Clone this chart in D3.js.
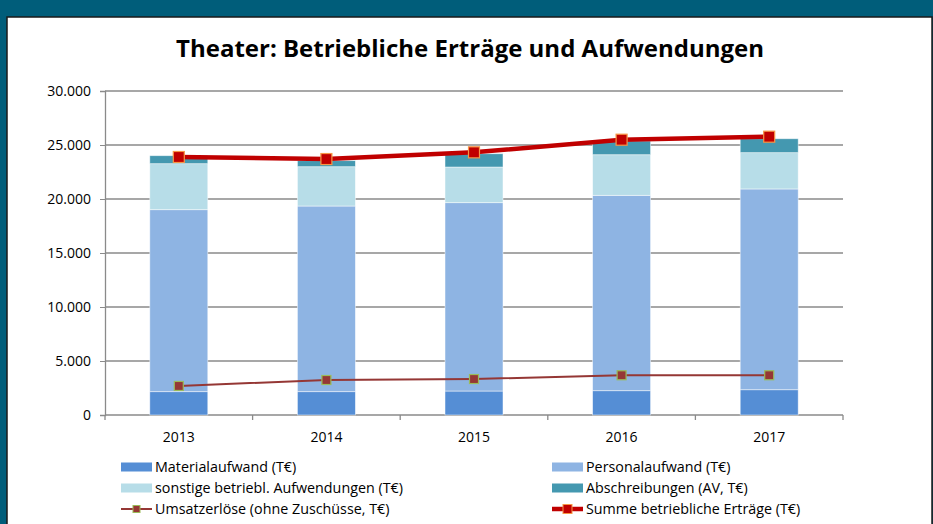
<!DOCTYPE html>
<html>
<head>
<meta charset="utf-8">
<script src="https://cdn.jsdelivr.net/npm/d3@7"></script>
<style>
  body { margin: 0; background: #005d7a; }
  #chart { position: absolute; left: 0; top: 0; }
</style>
</head>
<body>
<svg id="chart" width="933" height="524"></svg>
<script>
// data (T€)
const years = ["2013", "2014", "2015", "2016", "2017"];
const materialaufwand = [2160, 2160, 2220, 2250, 2340];
const personalaufwand = [16850, 17190, 17440, 18090, 18590];
const sonstigeAufwendungen = [4260, 3640, 3300, 3760, 3360];
const abschreibungen = [740, 560, 1230, 1270, 1290];
const umsatzerloese = [2690, 3240, 3330, 3680, 3680];
const summeErtraege = [23890, 23700, 24320, 25490, 25770];
const yTicks = [0, 5000, 10000, 15000, 20000, 25000, 30000];

const barSeries = [
    { name: "Materialaufwand (T€)", values: materialaufwand, colour: "#558ed5" },
    { name: "Personalaufwand (T€)", values: personalaufwand, colour: "#8eb4e3" },
    { name: "sonstige betriebl. Aufwendungen (T€)", values: sonstigeAufwendungen, colour: "#b7dde8" },
    { name: "Abschreibungen (AV, T€)", values: abschreibungen, colour: "#4498b0" }
];
const lineSeries = [
    { name: "Umsatzerlöse (ohne Zuschüsse, T€)", values: umsatzerloese, colour: "#953735", stroke: "#9bbb59", width: 2, size: 9 },
    { name: "Summe betriebliche Erträge (T€)", values: summeErtraege, colour: "#c00000", stroke: "#f79646", width: 4.5, size: 11 }
];

const font = "'Open Sans', sans-serif";
const de = d3.formatLocale({ decimal: ",", thousands: ".", grouping: [3], currency: ["", " €"] });
const fmt = de.format(",.0f");

const svg = d3.select("#chart");

// white panel with dark frame
svg.append("rect")
    .attr("x", 7).attr("y", 17)
    .attr("width", 925).attr("height", 520)
    .attr("fill", "#fff")
    .attr("stroke", "#1a1a1a")
    .attr("stroke-width", 1.5);

svg.append("text")
    .attr("x", 470).attr("y", 57)
    .attr("text-anchor", "middle")
    .style("font-family", font)
    .style("font-weight", "bold")
    .style("font-size", "24px")
    .attr("fill", "#000")
    .text("Theater: Betriebliche Erträge und Aufwendungen");

const plotLeft = 105, plotRight = 843, plotTop = 91, plotBottom = 415;

const y = d3.scaleLinear().domain([0, 30000]).range([plotBottom, plotTop]);

// gridlines
svg.append("g")
    .selectAll("line")
    .data(yTicks.slice(1))
    .enter()
    .append("line")
    .attr("x1", plotLeft).attr("x2", plotRight)
    .attr("y1", d => y(d)).attr("y2", d => y(d))
    .attr("stroke", "#8a8a8a")
    .attr("stroke-width", 1.3);

// y axis
const yAxis = svg.append("g")
    .attr("transform", "translate(" + plotLeft + ",0)")
    .call(d3.axisLeft(y).tickValues(yTicks).tickFormat(fmt).tickSize(5).tickPadding(9));
yAxis.select(".domain").attr("stroke", "#8a8a8a").attr("stroke-width", 1.3);
yAxis.selectAll(".tick line").attr("stroke", "#8a8a8a");
yAxis.selectAll("text").style("font-family", font).style("font-size", "14px").attr("fill", "#000");

// x axis: ticks sit between the categories
const catX = d3.scaleBand().domain(years).range([plotLeft, plotRight]);
const bandEdge = d3.scaleLinear().domain([0, years.length]).range([plotLeft, plotRight]);
const xAxis = svg.append("g")
    .attr("transform", "translate(0," + plotBottom + ")");
xAxis.append("line")
    .attr("x1", plotLeft).attr("x2", plotRight)
    .attr("stroke", "#8a8a8a").attr("stroke-width", 1.3);
xAxis.selectAll(".sep")
    .data(d3.range(years.length + 1))
    .enter()
    .append("line")
    .attr("x1", d => bandEdge(d)).attr("x2", d => bandEdge(d))
    .attr("y1", 0).attr("y2", 5)
    .attr("stroke", "#8a8a8a").attr("stroke-width", 1.3);
xAxis.selectAll(".lbl")
    .data(years)
    .enter()
    .append("text")
    .attr("x", d => catX(d) + catX.bandwidth() / 2)
    .attr("y", 27)
    .attr("text-anchor", "middle")
    .style("font-family", font).style("font-size", "14px")
    .attr("fill", "#000")
    .text(d => d);

// stacked bars
const stackRows = years.map((yr, i) => {
    const row = { year: yr };
    barSeries.forEach(s => { row[s.name] = s.values[i]; });
    return row;
});
const stacked = d3.stack().keys(barSeries.map(s => s.name))(stackRows);
const barW = 58;

svg.append("g")
    .selectAll("g")
    .data(stacked)
    .enter()
    .append("g")
    .attr("fill", (d, i) => barSeries[i].colour)
    .selectAll("rect")
    .data(d => d)
    .enter()
    .append("rect")
    .attr("x", d => catX(d.data.year) + catX.bandwidth() / 2 - barW / 2)
    .attr("width", barW)
    .attr("y", d => y(d[1]))
    .attr("height", d => y(d[0]) - y(d[1]))
    .attr("stroke", "rgba(255,255,255,0.6)")
    .attr("stroke-width", 0.8);

// lines with square markers
const line = d3.line()
    .x((d, i) => catX(years[i]) + catX.bandwidth() / 2)
    .y(d => y(d));

lineSeries.forEach(s => {
    svg.append("path")
        .datum(s.values)
        .attr("d", line)
        .attr("fill", "none")
        .attr("stroke", s.colour)
        .attr("stroke-width", s.width);
    svg.append("g")
        .selectAll("rect")
        .data(s.values)
        .enter()
        .append("rect")
        .attr("x", (d, i) => catX(years[i]) + catX.bandwidth() / 2 - s.size / 2)
        .attr("y", d => y(d) - s.size / 2)
        .attr("width", s.size).attr("height", s.size)
        .attr("fill", s.colour)
        .attr("stroke", s.stroke)
        .attr("stroke-width", 1.2);
});

// legend
const legendItems = [
    { s: barSeries[0], col: 0, row: 0 },
    { s: barSeries[1], col: 1, row: 0 },
    { s: barSeries[2], col: 0, row: 1 },
    { s: barSeries[3], col: 1, row: 1 },
    { s: lineSeries[0], col: 0, row: 2, line: true },
    { s: lineSeries[1], col: 1, row: 2, line: true }
];
const colX = [121, 552], rowY = [467, 488, 509];

const lg = svg.append("g")
    .selectAll("g")
    .data(legendItems)
    .enter()
    .append("g")
    .attr("transform", d => "translate(" + colX[d.col] + "," + rowY[d.row] + ")");

lg.filter(d => !d.line)
    .append("rect")
    .attr("x", 0).attr("y", -4.5)
    .attr("width", 31).attr("height", 9)
    .attr("fill", d => d.s.colour);

lg.filter(d => d.line)
    .append("line")
    .attr("x1", 0).attr("x2", 31)
    .attr("stroke", d => d.s.colour)
    .attr("stroke-width", d => d.s.width);

lg.filter(d => d.line)
    .append("rect")
    .attr("x", d => 15.5 - (d.s.size - 2) / 2)
    .attr("y", d => -(d.s.size - 2) / 2)
    .attr("width", d => d.s.size - 2).attr("height", d => d.s.size - 2)
    .attr("fill", d => d.s.colour)
    .attr("stroke", d => d.s.stroke)
    .attr("stroke-width", 1);

lg.append("text")
    .attr("x", 34).attr("y", 0)
    .attr("dy", "0.35em")
    .style("font-family", font).style("font-size", "14.3px")
    .attr("fill", "#000")
    .text(d => d.s.name);
</script>
</body>
</html>
